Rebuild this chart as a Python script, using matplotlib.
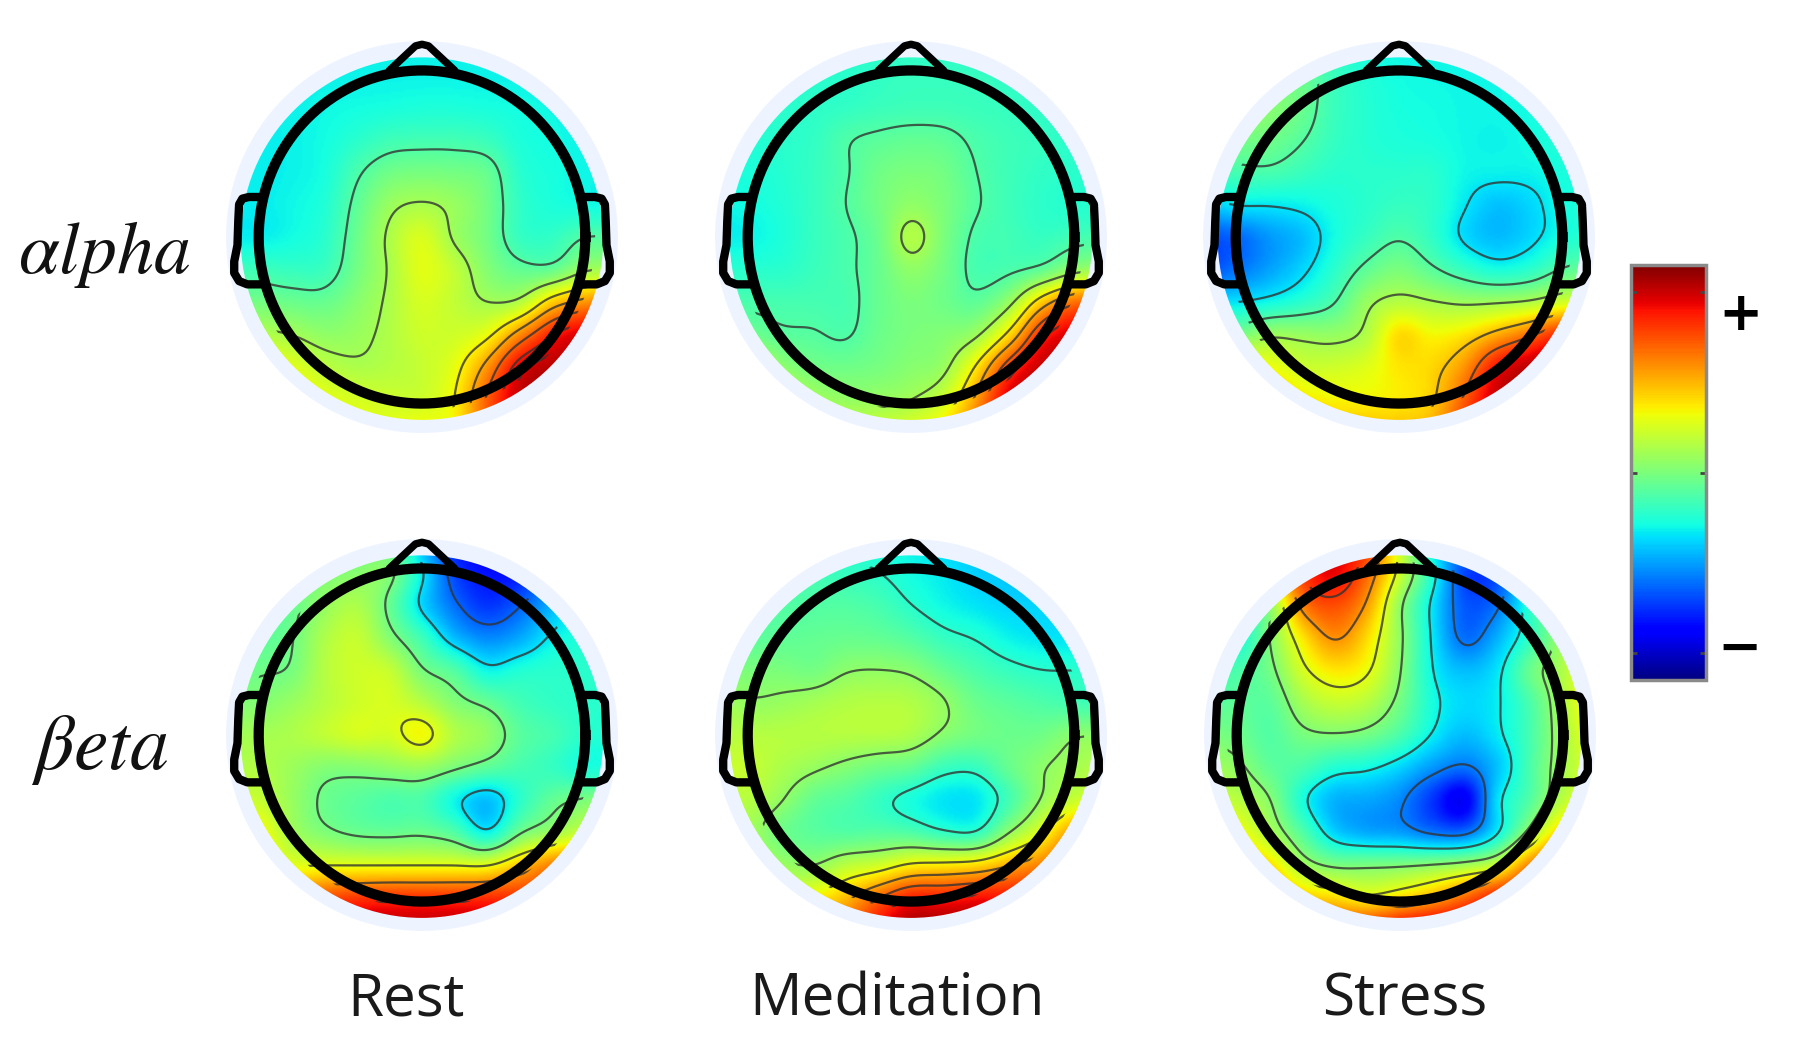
import numpy as np
import matplotlib
matplotlib.use('Agg')
import matplotlib.pyplot as plt
from matplotlib.patches import Circle

# scalp values, -1 (dark blue) to +1 (dark red)
# 13 x 13 samples, top row = front of the head
alpha_rest = [
    [-.27,-.27,-.27,-.27,-.27,-.27,-.27,-.27,-.27,-.27,-.27,-.27,-.27],
    [-.27,-.27,-.27,-.27,-.27,-.27,-.27,-.27,-.27,-.27,-.27,-.27,-.27],
    [-.27,-.27,-.27,-.26,-.25,-.24,-.23,-.23,-.24,-.25,-.26,-.27,-.27],
    [-.28,-.28,-.27,-.25,-.20,-.15,-.14,-.14,-.16,-.23,-.25,-.27,-.27],
    [-.28,-.28,-.27,-.24,-.12,-.03,-.01,-.02,-.05,-.20,-.24,-.26,-.27],
    [-.28,-.28,-.26,-.22,-.07,.07,.11,.07,-.02,-.18,-.23,-.25,-.26],
    [-.28,-.28,-.25,-.20,-.04,.12,.23,.08,-.02,-.17,-.18,-.10,-.10],
    [-.15,-.15,-.17,-.16,-.02,.11,.25,.17,.02,-.06,-.06,.08,.10],
    [-.02,-.02,-.04,-.05,.03,.12,.22,.17,.10,.13,.38,.50,.55],
    [.13,.13,.10,.05,.07,.13,.20,.20,.27,.52,.75,.85,.85],
    [.30,.30,.25,.16,.12,.14,.18,.26,.50,.82,.90,.90,.90],
    [.32,.32,.32,.26,.22,.20,.20,.30,.62,.88,.92,.90,.90],
    [.30,.30,.30,.30,.28,.26,.30,.30,.60,.90,.95,.95,.95],
]
alpha_meditation = [
    [-.20,-.20,-.20,-.20,-.20,-.20,-.20,-.20,-.20,-.20,-.20,-.20,-.20],
    [-.20,-.20,-.20,-.20,-.20,-.18,-.17,-.17,-.17,-.18,-.20,-.20,-.20],
    [-.20,-.20,-.20,-.19,-.18,-.16,-.15,-.15,-.16,-.17,-.19,-.20,-.20],
    [-.22,-.22,-.20,-.18,-.11,-.08,-.06,-.07,-.12,-.15,-.17,-.20,-.20],
    [-.24,-.23,-.21,-.17,-.11,-.03,.00,-.02,-.10,-.15,-.18,-.20,-.20],
    [-.26,-.25,-.22,-.17,-.10,-.02,.05,.00,-.09,-.15,-.19,-.21,-.20],
    [-.28,-.27,-.23,-.17,-.12,-.04,.14,.00,-.12,-.14,-.17,-.14,-.12],
    [-.20,-.20,-.20,-.16,-.12,-.05,.05,-.02,-.13,-.12,-.07,.05,.08],
    [-.12,-.12,-.13,-.13,-.13,-.05,.00,-.03,-.07,.06,.38,.58,.60],
    [-.03,-.03,-.08,-.09,-.11,-.04,.00,.02,.08,.34,.72,.85,.85],
    [.20,.20,.05,-.02,-.03,-.01,.03,.07,.32,.68,.88,.90,.90],
    [.25,.25,.20,.10,.06,.07,.10,.20,.48,.85,.92,.90,.90],
    [.30,.30,.25,.20,.18,.20,.25,.35,.58,.88,.95,.95,.95],
]
alpha_stress = [
    [-.15,-.15,-.15,-.15,-.20,-.25,-.27,-.27,-.27,-.27,-.27,-.25,-.25],
    [.00,-.05,-.03,-.05,-.16,-.22,-.25,-.26,-.26,-.26,-.25,-.22,-.20],
    [.05,.05,.03,-.04,-.16,-.21,-.24,-.25,-.26,-.26,-.25,-.23,-.20],
    [-.02,-.02,-.03,-.09,-.17,-.21,-.23,-.24,-.26,-.27,-.25,-.22,-.20],
    [-.15,-.13,-.12,-.16,-.20,-.20,-.20,-.20,-.26,-.27,-.27,-.24,-.22],
    [-.35,-.29,-.29,-.27,-.23,-.20,-.17,-.19,-.29,-.37,-.33,-.25,-.22],
    [-.60,-.55,-.45,-.38,-.25,-.17,-.11,-.18,-.32,-.38,-.33,-.24,-.20],
    [-.60,-.52,-.43,-.33,-.20,-.07,.00,-.08,-.17,-.24,-.20,-.09,-.05],
    [-.30,-.30,-.26,-.20,-.11,.07,.14,.11,.08,.09,.12,.20,.25],
    [.00,-.02,.08,.07,.06,.13,.36,.29,.33,.45,.58,.75,.80],
    [.30,.30,.28,.20,.20,.24,.33,.36,.50,.78,.90,.95,.95],
    [.45,.45,.45,.33,.30,.30,.32,.38,.62,.88,.92,.95,.95],
    [.50,.50,.50,.45,.42,.42,.42,.45,.70,.90,.95,.95,.95],
]
beta_rest = [
    [-.10,-.10,-.10,-.10,-.05,-.05,-.40,-.70,-.80,-.70,-.40,-.20,-.20],
    [-.05,-.05,-.03,.00,.03,.02,-.28,-.62,-.72,-.70,-.50,-.30,-.20],
    [-.10,-.10,-.05,.06,.12,-.05,-.33,-.53,-.65,-.56,-.40,-.25,-.20],
    [-.10,-.08,-.03,.12,.18,.02,-.15,-.38,-.48,-.42,-.28,-.22,-.20],
    [-.05,-.03,-.01,.14,.20,.18,-.01,-.10,-.27,-.22,-.20,-.20,-.20],
    [.02,.02,.07,.14,.20,.22,.14,.02,-.05,-.14,-.18,-.20,-.20],
    [.10,.10,.12,.17,.22,.21,.30,.13,.06,-.08,-.13,-.20,-.22],
    [.12,.13,.08,.02,.02,.05,.07,.00,-.07,-.13,-.17,-.24,-.22],
    [.20,.18,.07,-.04,-.08,-.12,-.12,-.27,-.38,-.20,-.06,.00,.05],
    [.30,.30,.10,.01,-.04,-.05,-.04,-.10,-.28,-.03,.08,.20,.30],
    [.40,.35,.25,.25,.25,.25,.25,.25,.25,.40,.55,.60,.60],
    [.50,.50,.55,.65,.70,.72,.72,.72,.72,.72,.70,.70,.70],
    [.70,.70,.75,.85,.90,.90,.90,.90,.90,.85,.80,.75,.70],
]
beta_meditation = [
    [-.25,-.25,-.25,-.25,-.20,-.25,-.27,-.32,-.36,-.35,-.30,-.30,-.30],
    [-.10,-.12,-.13,-.15,-.17,-.20,-.25,-.29,-.34,-.36,-.36,-.33,-.30],
    [-.10,-.10,-.10,-.10,-.10,-.13,-.20,-.26,-.30,-.33,-.33,-.32,-.30],
    [-.08,-.08,-.07,-.06,-.05,-.06,-.10,-.17,-.21,-.27,-.30,-.30,-.30],
    [.00,.00,.00,-.02,.04,.05,.03,-.05,-.12,-.17,-.20,-.20,-.20],
    [.10,.06,.07,.10,.13,.14,.13,.06,-.04,-.08,-.11,-.14,-.15],
    [.15,.14,.14,.14,.14,.14,.12,.03,-.02,-.04,-.03,.04,.05],
    [.18,.18,.12,.07,.02,-.03,-.06,-.16,-.17,-.05,.04,.10,.15],
    [.15,.14,.06,-.06,-.10,-.17,-.24,-.30,-.30,-.14,.06,.18,.25],
    [.10,.10,-.03,-.08,-.10,-.09,-.11,-.18,-.19,.05,.25,.50,.55],
    [.10,.15,.08,.05,.15,.20,.30,.32,.35,.45,.55,.70,.75],
    [.25,.25,.25,.30,.42,.60,.75,.75,.78,.78,.80,.80,.80],
    [.50,.50,.50,.55,.60,.80,.95,.95,.95,.90,.90,.85,.80],
]
beta_stress = [
    [.00,.00,.40,.70,.80,.70,.20,-.30,-.50,-.50,-.30,-.10,-.05],
    [-.10,-.10,.30,.70,.82,.60,.20,-.22,-.62,-.60,-.30,-.10,.00],
    [-.25,-.25,.04,.55,.66,.48,.05,-.30,-.58,-.52,-.20,.05,.20],
    [-.20,-.25,.02,.33,.52,.35,.05,-.29,-.54,-.40,-.18,.08,.30],
    [-.15,-.12,-.02,.22,.33,.27,.03,-.27,-.38,-.30,-.04,.12,.35],
    [-.10,-.07,-.08,.10,.18,.14,-.02,-.24,-.32,-.28,-.12,.12,.35],
    [.00,-.03,-.10,-.01,.01,-.02,-.12,-.28,-.38,-.29,-.13,.10,.30],
    [.10,.05,-.07,-.12,-.22,-.25,-.33,-.45,-.52,-.37,-.12,.10,.25],
    [.20,.15,.03,-.24,-.40,-.42,-.48,-.65,-.80,-.30,-.10,.15,.30],
    [.40,.30,.12,-.10,-.34,-.42,-.44,-.52,-.53,-.28,.08,.40,.50],
    [.50,.45,.35,.10,.00,.00,.01,.04,.09,.20,.55,.70,.80],
    [.60,.55,.55,.40,.35,.28,.35,.45,.60,.78,.85,.90,.90],
    [.70,.75,.75,.70,.70,.75,.85,.90,.90,.90,.90,.90,.90],
]

# contour levels of each map
alpha_rest_levels = [-.1, .1, .3, .45, .6, .75, .85]
alpha_meditation_levels = [-.1, .1, .3, .45, .6, .75, .85]
alpha_stress_levels = [-.3, -.1, .1, .4, .6]
beta_rest_levels = [-.55, -.3, -.02, .25, .5, .75]
beta_meditation_levels = [-.2, .05, .27, .45, .6, .75]
beta_stress_levels = [-.5, -.27, .02, .25, .5, .7, .85]

col_labels = ['Rest', 'Meditation', 'Stress']
row_labels = [r'$\alpha lpha$', r'$\beta eta$']

W, H = 1793, 1048
R = 163.3  # head radius in pixels
LIM = 1.25


def smooth(z, n=14):
    # catmull-rom upsampling along both axes, so contours come out round
    z = np.asarray(z, dtype=float)
    box = np.ones(n // 2) / (n // 2)
    for axis in (0, 1):
        z = np.moveaxis(z, axis, 0)
        m = z.shape[0]
        p = np.linspace(0, m - 1, (m - 1) * n + 1)
        i = np.clip(p.astype(int), 0, m - 2)
        t = (p - i)[:, None]
        z0 = z[np.clip(i - 1, 0, m - 1)]
        z1 = z[i]
        z2 = z[i + 1]
        z3 = z[np.clip(i + 2, 0, m - 1)]
        z = 0.5 * (2 * z1 + (z2 - z0) * t + (2 * z0 - 5 * z1 + 4 * z2 - z3) * t ** 2
                   + (3 * z1 - z0 - 3 * z2 + z3) * t ** 3)
        # a light box blur takes the kinks out of the contour lines
        pad = np.pad(z, ((n, n), (0, 0)), mode='edge')
        z = np.apply_along_axis(lambda c: np.convolve(c, box, mode='same'), 0, pad)[n:-n]
        z = np.moveaxis(z, 0, axis)
    return z


def head_map(cx, cy, values, levels):
    side = 2 * LIM * R
    ax = fig.add_axes([(cx - side / 2) / W, 1 - (cy + side / 2) / H, side / W, side / H])
    ax.set_xlim(-LIM, LIM)
    ax.set_ylim(-LIM, LIM)
    ax.axis('off')

    ax.add_patch(Circle((0, 0), 1.2, fc='#eef4ff', ec='none', zorder=0))

    z = smooth(values)
    xs = np.linspace(-1.2, 1.2, z.shape[1])
    ys = np.linspace(1.2, -1.2, z.shape[0])
    disc = Circle((0, -.01), 1.11, transform=ax.transData)
    im = ax.imshow(z, cmap='jet', vmin=-1, vmax=1, extent=[-1.2, 1.2, -1.2, 1.2],
                   interpolation='bilinear', zorder=1)
    im.set_clip_path(disc)
    cs = ax.contour(xs, ys, z, levels=levels, colors='#333333', linewidths=1.6,
                    linestyles='solid', alpha=0.8, zorder=2)
    cs.set_clip_path(Circle((0, 0), 1.06, transform=ax.transData))
    ax.set_xlim(-LIM, LIM)
    ax.set_ylim(-LIM, LIM)

    # head outline, nose and ears
    a = np.linspace(0, 2 * np.pi, 300)
    ax.plot(np.cos(a), 1.02 * np.sin(a), color='black', lw=7.4, zorder=3)
    ax.plot([-.2, -.04, .0, .04, .2], [1.02, 1.17, 1.18, 1.17, 1.02], color='black', lw=5.4,
            solid_joinstyle='round', solid_capstyle='round', zorder=3)
    ear_x = [1.0, 1.06, 1.10, 1.12, 1.125, 1.13, 1.15, 1.15, 1.12, 1.07, 1.0]
    ear_y = [.245, .245, .235, .20, .10, -.05, -.15, -.22, -.27, -.29, -.29]
    for side_sign in (-1, 1):
        ax.plot(side_sign * np.array(ear_x), ear_y, color='black', lw=6,
                solid_joinstyle='round', zorder=3)


fig = plt.figure(figsize=(W / 100, H / 100), dpi=100, facecolor='white')

head_map(422, 237, alpha_rest, alpha_rest_levels)
head_map(911, 237, alpha_meditation, alpha_meditation_levels)
head_map(1399, 237, alpha_stress, alpha_stress_levels)
head_map(422, 735, beta_rest, beta_rest_levels)
head_map(911, 735, beta_meditation, beta_meditation_levels)
head_map(1400, 735, beta_stress, beta_stress_levels)

plt.rcParams['mathtext.fontset'] = 'stix'
for x, label in zip([406, 897, 1405], col_labels):
    fig.text(x / W, 1 - 1000 / H, label, fontsize=42, family='Open Sans',
             ha='center', va='center', color='#1a1a1a')
for x, y, size, label in zip([104, 100], [254, 749], [53, 56], row_labels):
    fig.text(x / W, 1 - y / H, label, fontsize=size, ha='center', va='center',
             color='#111111')

# colour bar
cax = fig.add_axes([1631 / W, 1 - 680 / H, 75 / W, 415 / H])
sm = plt.cm.ScalarMappable(norm=plt.Normalize(-1, 1), cmap='jet')
cb = fig.colorbar(sm, cax=cax, ticks=[-.87, 0, .87])
cb.ax.tick_params(left=True, right=True, direction='in', length=4, width=2,
                  color='#444444', labelleft=False, labelright=False)
cb.outline.set_edgecolor('#8a8a8a')
cb.outline.set_linewidth(2.5)

fig.text(1740 / W, 1 - 315 / H, '+', fontsize=38, fontweight='bold', ha='center',
         va='center', color='black')
fig.text(1740 / W, 1 - 649 / H, '\u2212', fontsize=38, fontweight='bold', ha='center',
         va='center', color='black')

fig.savefig('out.png', dpi=100)
